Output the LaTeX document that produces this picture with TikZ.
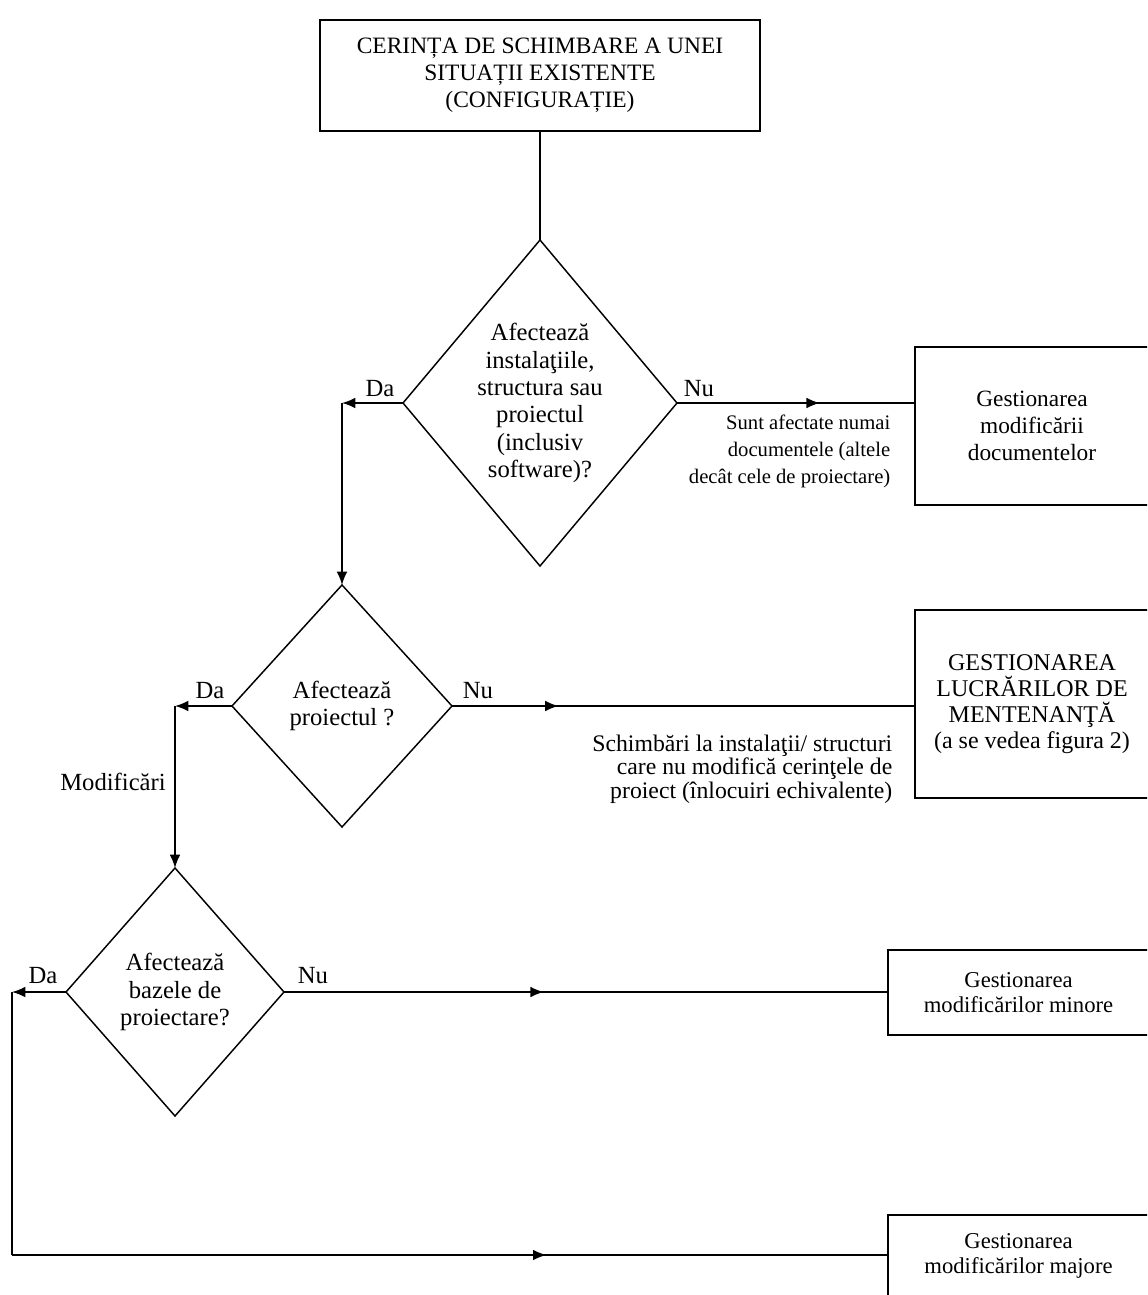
\documentclass[tikz,border=0pt]{standalone}
\usepackage{fontspec}
\setmainfont{Liberation Serif}
\usetikzlibrary{shapes.geometric,arrows.meta,decorations.markings}
\begin{document}
\begin{tikzpicture}[x=0.75pt,y=-0.75pt,
  line width=1.1pt,
  box/.style={draw,rectangle,inner sep=0pt,outer sep=0pt,align=center,font=\fontsize{17.5}{20}\selectfont},
  dec/.style={draw,diamond,inner sep=0pt,outer sep=0pt,align=center,font=\fontsize{18.5}{20.5}\selectfont},
  lbl/.style={inner sep=0pt,font=\fontsize{18.5}{20}\selectfont},
  note/.style={inner sep=0pt,align=right},
  arr/.style={-{Latex[length=10pt,width=8pt]}},
  midarr/.style={postaction={decorate},decoration={markings,mark=at position #1 with {\arrow{Latex[length=10pt,width=8pt]}}}}
]
\useasboundingbox (0,0) rectangle (1147,1295);
\clip (0,0) rectangle (1147,1295);

% boxes
\node[box,minimum width=330pt,minimum height=83.25pt,font=\fontsize{17.6}{20.25}\selectfont] (top) at (540,75.5)
  {CERINȚA DE SCHIMBARE A UNEI\\SITUAȚII EXISTENTE\\(CONFIGURAȚIE)};
\node[box,minimum width=175.5pt,minimum height=118.5pt] (b2) at (1032,426)
  {Gestionarea\\modificării\\documentelor};
\node[box,minimum width=175.5pt,minimum height=141pt,font=\fontsize{18}{19.5}\selectfont] (b3) at (1032,704)
  {GESTIONAREA\\LUCRĂRILOR DE\\MENTENANŢĂ\\(a se vedea figura 2)};
\node[box,minimum width=195.75pt,minimum height=63.75pt,font=\fontsize{17}{19}\selectfont] (b4) at (1018.5,992.5)
  {Gestionarea\\modificărilor minore};
\node[box,minimum width=195.75pt,minimum height=61.5pt,font=\fontsize{17}{19}\selectfont] (b5) at (1018.5,1256)
  {Gestionarea\\modificărilor majore};

% decisions
\node[dec,minimum width=205.5pt,minimum height=244.5pt,aspect=0.84] (d1) at (540,403)
  {Afectează\\instalaţiile,\\structura sau\\proiectul\\(inclusiv\\software)?};
\node[dec,minimum width=165pt,minimum height=181.5pt,aspect=0.9] (d2) at (342,706)
  {Afectează\\proiectul ?};
\node[dec,minimum width=163.5pt,minimum height=186pt,aspect=0.88] (d3) at (175,992)
  {Afectează\\bazele de\\proiectare?};

% corner points
\coordinate (c1) at (d2.north |- d1.west);
\coordinate (c2) at (d3.north |- d2.west);
\coordinate (c3) at (12,992);
\coordinate (c4) at (12,1255);

% connectors
\draw (top.south) -- (d1.north);
\draw[arr] (d1.west) -- (c1);
\draw[arr] (c1) -- (d2.north);
\draw[midarr=0.6] (d1.east) -- (d1.east -| b2.west);

\draw[arr] (d2.west) -- (c2);
\draw[arr] (c2) -- (d3.north);
\draw[midarr=0.23] (d2.east) -- (d2.east -| b3.west);

\draw[arr] (d3.west) -- (c3);
\draw[midarr=0.43] (d3.east) -- (d3.east -| b4.west);
\draw (c3) -- (c4);
\draw[midarr=0.61] (c4) -- (c4 -| b5.west);

% labels
\node[lbl] (da1) at (380,389) {Da};
\node[lbl] (nu1) at (699,389) {Nu};
\node[lbl] (da2) at (210,691) {Da};
\node[lbl] (nu2) at (478,691) {Nu};
\node[lbl] (da3) at (43,976) {Da};
\node[lbl] (nu3) at (313,976) {Nu};
\node[lbl] (mod) at (113,782) {Modificări};

\node[note,anchor=north east,font=\fontsize{15.5}{20.25}\selectfont] (n1) at (891,414)
  {Sunt afectate numai\\documentele (altele\\decât cele de proiectare)};
\node[note,anchor=north east,font=\fontsize{17.8}{17.8}\selectfont] (n2) at (893,734)
  {Schimbări la instalaţii/ structuri\\care nu modifică cerinţele de\\proiect (înlocuiri echivalente)};
\end{tikzpicture}
\end{document}
